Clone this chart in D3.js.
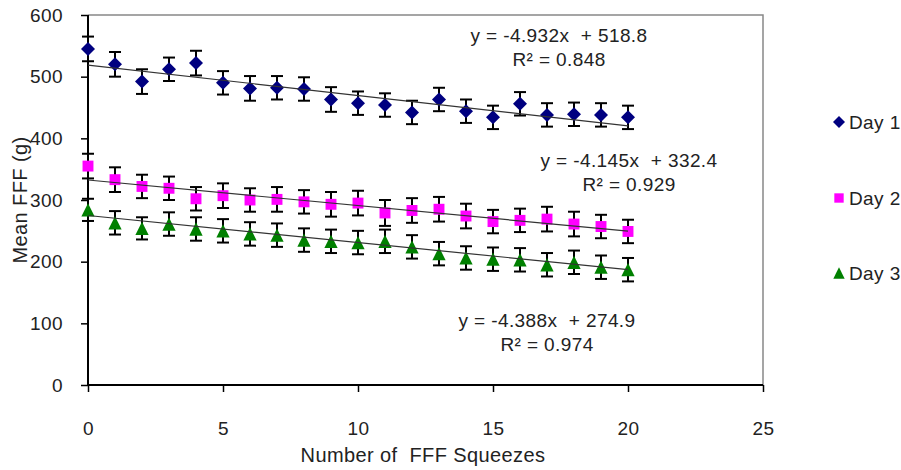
<!DOCTYPE html>
<html>
<head>
<meta charset="utf-8">
<script src="https://cdn.jsdelivr.net/npm/d3@7"></script>
<style>
  body { margin: 0; background: #fff; }
  text { font-family: Arial, "Liberation Sans", sans-serif; fill: #222; white-space: pre; letter-spacing: 0.4px; }
</style>
</head>
<body>
<div id="chart"></div>
<script>
// squeeze number on x, mean FFF (g) per day on y
var squeezes = [0, 1, 2, 3, 4, 5, 6, 7, 8, 9, 10, 11, 12, 13, 14, 15, 16, 17, 18, 19, 20]

var day1 = [545, 520, 492, 512, 522, 490, 481, 482, 480, 463, 457, 454, 442, 463, 444, 434, 456, 438, 439, 438, 434]
var day2 = [355, 333, 322, 319, 302, 307, 300, 301, 297, 293, 295, 279, 283, 285, 274, 265, 267, 269, 261, 257, 249]
var day3 = [284, 263, 254, 261, 253, 250, 245, 243, 235, 233, 231, 233, 224, 213, 206, 204, 203, 195, 199, 191, 187]

var day1Err = [20, 20, 20, 19, 20, 19, 20, 19, 19, 20, 19, 19, 19, 19, 19, 19, 19, 19, 19, 19, 19]
var day2Err = [20, 20, 19, 19, 19, 20, 19, 20, 19, 20, 20, 21, 20, 20, 20, 19, 19, 20, 20, 19, 19]
var day3Err = [18, 19, 18, 19, 19, 19, 19, 19, 19, 19, 19, 19, 19, 19, 19, 19, 19, 19, 19, 19, 19]

var seriesNames = ['Day 1', 'Day 2', 'Day 3']
var seriesColors = ['#000080', '#ff00ff', '#008000']

// trendline coefficients as printed on the chart
var slopes = [-4.932, -4.145, -4.388]
var intercepts = [518.8, 332.4, 274.9]
var r2s = ['0.848', '0.929', '0.974']
var eqLabels = ['y = -4.932x  + 518.8', 'y = -4.145x  + 332.4', 'y = -4.388x  + 274.9']

var xTicks = [0, 5, 10, 15, 20, 25]
var yTicks = [0, 100, 200, 300, 400, 500, 600]

var width = 901, height = 470
var margin = {left: 88, top: 15, right: 138, bottom: 85}

var svg = d3.select('#chart').append('svg')
  .attr('width', width)
  .attr('height', height)

var x = d3.scaleLinear().domain([0, 25]).range([margin.left, width - margin.right])
var y = d3.scaleLinear().domain([0, 600]).range([height - margin.bottom, margin.top])

// frame: grey top/right, black axes
svg.append('path')
  .attr('d', 'M' + x(0) + ',' + y(600) + 'H' + x(25) + 'V' + y(0))
  .attr('fill', 'none').attr('stroke', '#888').attr('stroke-width', 1.5)

var yAxis = svg.append('g')
  .attr('transform', 'translate(' + x(0) + ',0)')
  .call(d3.axisLeft(y).tickValues(yTicks).tickSize(7).tickPadding(18))
var xAxis = svg.append('g')
  .attr('transform', 'translate(0,' + y(0) + ')')
  .call(d3.axisBottom(x).tickValues(xTicks).tickSize(7).tickPadding(30))

svg.selectAll('.domain').attr('stroke', '#000').attr('stroke-width', 2)
svg.selectAll('.tick line').attr('stroke', '#000').attr('stroke-width', 1.5)
svg.selectAll('.tick text').style('font-size', '19px').attr('fill', '#222')
yAxis.select('.domain').attr('d', 'M0,' + y(600) + 'V' + y(0))
xAxis.select('.domain').attr('d', 'M' + x(0) + ',0H' + x(25))

function symbolPath(i, r){
  if (i == 0) return 'M0,' + (-r) + 'L' + r + ',0L0,' + r + 'L' + (-r) + ',0Z'
  if (i == 1) { var s = r * 0.78; return 'M' + (-s) + ',' + (-s) + 'H' + s + 'V' + s + 'H' + (-s) + 'Z' }
  var t = r * 0.95
  return 'M0,' + (-t) + 'L' + t + ',' + t + 'L' + (-t) + ',' + t + 'Z'
}

var allValues = [day1, day2, day3]
var allErrs = [day1Err, day2Err, day3Err]

allValues.forEach(function(vals, i){
  var pts = squeezes.map(function(s, j){ return {s: s, v: vals[j], e: allErrs[i][j]} })
  var g = svg.append('g')

  var eb = g.selectAll('g.err').data(pts).enter().append('g')
    .attr('stroke', '#000').attr('stroke-width', 2)
  eb.append('line')
    .attr('x1', function(d){ return x(d.s) }).attr('x2', function(d){ return x(d.s) })
    .attr('y1', function(d){ return y(d.v + d.e) }).attr('y2', function(d){ return y(d.v - d.e) })
  eb.append('line')
    .attr('x1', function(d){ return x(d.s) - 6 }).attr('x2', function(d){ return x(d.s) + 6 })
    .attr('y1', function(d){ return y(d.v + d.e) }).attr('y2', function(d){ return y(d.v + d.e) })
  eb.append('line')
    .attr('x1', function(d){ return x(d.s) - 6 }).attr('x2', function(d){ return x(d.s) + 6 })
    .attr('y1', function(d){ return y(d.v - d.e) }).attr('y2', function(d){ return y(d.v - d.e) })

  g.selectAll('path.mark').data(pts).enter().append('path')
    .attr('d', symbolPath(i, 7))
    .attr('transform', function(d){ return 'translate(' + x(d.s) + ',' + y(d.v) + ')' })
    .attr('fill', seriesColors[i])
})

// trendlines over x = 0..20
allValues.forEach(function(vals, i){
  var x0 = squeezes[0], x1 = squeezes[squeezes.length - 1]
  svg.append('line')
    .attr('x1', x(x0)).attr('y1', y(intercepts[i] + slopes[i] * x0))
    .attr('x2', x(x1)).attr('y2', y(intercepts[i] + slopes[i] * x1))
    .attr('stroke', '#333').attr('stroke-width', 1.2)
})

// equation labels
var eqPos = [[559, 42], [629, 167], [547, 327]]
eqLabels.forEach(function(lab, i){
  var t = svg.append('text')
    .attr('text-anchor', 'middle')
    .style('font-size', '19px')
  t.append('tspan').attr('x', eqPos[i][0]).attr('y', eqPos[i][1]).text(lab)
  t.append('tspan').attr('x', eqPos[i][0]).attr('y', eqPos[i][1] + 24).text('R² = ' + r2s[i])
})

// axis titles
svg.append('text')
  .attr('x', 423).attr('y', 462)
  .attr('text-anchor', 'middle')
  .style('font-size', '20px')
  .text('Number of  FFF Squeezes')

svg.append('text')
  .attr('transform', 'translate(27,' + y(300) + ') rotate(-90)')
  .attr('text-anchor', 'middle')
  .style('font-size', '20px')
  .text('Mean FFF (g)')

// legend
var legend = svg.selectAll('g.legend').data(seriesNames).enter().append('g')
  .attr('transform', function(d, i){ return 'translate(839,' + [122, 198, 273][i] + ')' })
legend.append('path')
  .attr('d', function(d, i){ return symbolPath(i, 6) })
  .attr('fill', function(d, i){ return seriesColors[i] })
legend.append('text')
  .attr('x', 10).attr('y', 7)
  .style('font-size', '19px')
  .text(function(d){ return d })
</script>
</body>
</html>
